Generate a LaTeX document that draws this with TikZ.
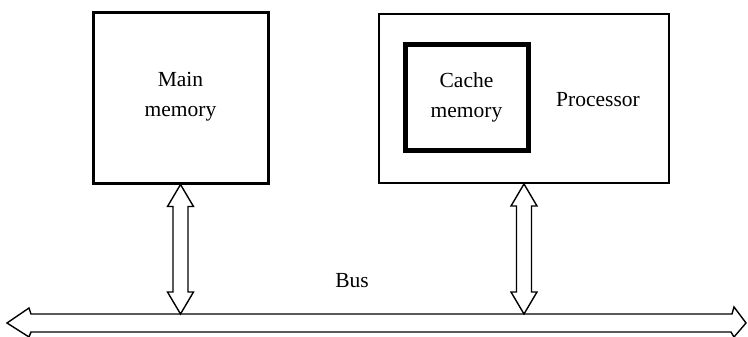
\documentclass[tikz,border=0pt]{standalone}
\usepackage{fontspec}
\setmainfont{Liberation Serif}
\usetikzlibrary{calc}
\tikzset{
  boxstyle/.style={draw=black, rectangle, inner sep=0pt, fill=white},
  lbl/.style={font=\fontsize{21.5}{30}\selectfont, align=center, inner sep=0pt},
  hollowarrow/.style={draw=black, line width=1.4pt, fill=white, line join=miter},
}
\newcommand{\dblarrow}[2]{%
  \draw[hollowarrow] let \p1=(#1), \p2=(#2) in
    (\x1,\y1) -- (\x1+13pt,\y1-22pt) -- (\x1+7.5pt,\y1-22pt) --
    (\x1+7.5pt,\y2+22pt) -- (\x1+13pt,\y2+22pt) -- (\x1,\y2) --
    (\x1-13pt,\y2+22pt) -- (\x1-7.5pt,\y2+22pt) --
    (\x1-7.5pt,\y1-22pt) -- (\x1-13pt,\y1-22pt) -- cycle;}
\begin{document}
\begin{tikzpicture}[x=1pt,y=-1pt]
  \useasboundingbox (0,0) rectangle (748,337);
  \fill[white] (0,0) rectangle (748,337);
  % boxes
  \node[boxstyle, line width=3pt, minimum width=175pt, minimum height=170pt] (mem) at (180.5,98) {};
  \node[lbl] (memtxt) at (180.5,97) {Main\\memory};
  \node[boxstyle, line width=2pt, minimum width=290pt, minimum height=169pt] (proc) at (524,98.5) {};
  \node[boxstyle, line width=5pt, minimum width=123pt, minimum height=105pt] (cache) at (466.5,97.5) {};
  \node[lbl] (cachetxt) at (466.5,97) {Cache\\memory};
  \node[lbl] (proctxt) at (598,100) {Processor};
  % bus
  \coordinate (busL) at (7,323);
  \coordinate (busR) at (746,323);
  \draw[hollowarrow] (busL) -- (29,308) -- (31,314) -- (732,314) -- (734,307) -- (busR)
     -- (734,337) -- (731,332) -- (31,332) -- (29,337) -- cycle;
  \node[lbl] (bus) at (352,281) {Bus};
  % vertical arrows
  \coordinate (m1) at (180.5,314);
  \coordinate (p1) at (524,314);
  \dblarrow{mem.south}{m1}
  \dblarrow{proc.south}{p1}
\end{tikzpicture}
\end{document}
